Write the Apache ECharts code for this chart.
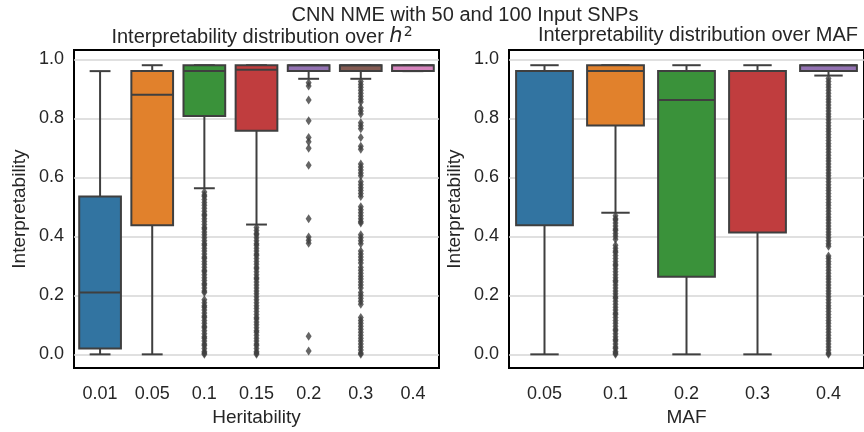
<!DOCTYPE html>
<html><head><meta charset="utf-8">
<script src="https://cdn.jsdelivr.net/npm/echarts@6/dist/echarts.min.js"></script>
<style>html,body{margin:0;padding:0;background:#fff}#c{width:864px;height:432px}</style>
</head><body><div id="c"></div>
<script>
// ---------- DATA ----------
const herCategories = ['0.01','0.05','0.1','0.15','0.2','0.3','0.4'];
// each: [lowerWhisker, q1, median, q3, upperWhisker]
const herBoxes = [
  [0.00, 0.02, 0.21, 0.535, 0.96],
  [0.00, 0.438, 0.88, 0.96, 0.98],
  [0.563, 0.808, 0.96, 0.98, 0.98],
  [0.44, 0.758, 0.965, 0.98, 0.98],
  [0.934, 0.96, 0.98, 0.98, 0.98],
  [0.934, 0.96, 0.98, 0.98, 0.98],
  [0.96, 0.96, 0.98, 0.98, 0.98]
];
const herOut001 = [];
const herOut005 = [];
const herOut01 = [0.55,0.54,0.535,0.525,0.515,0.505,0.495,0.485,0.475,0.47,0.46,0.45,0.44,0.43,0.425,0.415,0.405,0.395,0.385,0.375,0.37,0.36,0.35,0.34,0.33,0.325,0.315,0.305,0.295,0.285,0.28,0.27,0.26,0.25,0.24,0.235,0.225,0.215,0.21,
  0.185,0.175,0.165,0.16,0.15,0.14,0.13,0.125,0.115,0.105,0.095,0.09,0.08,0.07,0.06,0.055,0.045,0.035,0.03,0.02,0.01,0.005,0.0];
const herOut015 = [0.43,0.42,0.41,0.405,0.395,0.385,0.375,0.37,0.36,0.35,0.34,0.335,0.325,0.315,0.305,0.295,0.29,0.28,0.27,0.26,0.255,0.245,0.235,0.225,0.215,0.205,0.195,0.185,0.175,0.165,0.155,0.145,0.135,0.125,0.12,0.11,0.10,0.09,0.08,0.075,0.065,0.055,0.045,0.035,0.03,0.02,0.01,0.005,0.0];
const herOut02 = [0.921,0.91,0.862,0.792,0.735,0.721,0.699,0.641,0.46,0.398,0.387,0.377,0.061,0.011];
const herOut03 = [0.925,0.915,0.905,0.895,0.885,0.875,0.865,0.855,0.835,0.825,0.815,0.785,0.775,0.765,0.735,0.705,0.695,
  0.645,0.635,0.625,0.615,0.605,0.585,0.575,0.565,0.555,0.545,0.535,0.50,0.49,0.48,0.47,0.46,0.45,0.445,
  0.405,0.395,0.385,0.375,0.35,0.34,0.33,0.32,0.31,0.295,0.285,0.275,0.265,0.255,0.245,0.235,0.225,0.21,0.20,0.19,0.18,0.17,
  0.125,0.115,0.105,0.095,0.085,0.075,0.065,0.055,0.045,0.035,0.025,0.015,0.005,0.0];
const herOut04 = [];

const mafCategories = ['0.05','0.1','0.2','0.3','0.4'];
const mafBoxes = [
  [0.00, 0.438, 0.96, 0.96, 0.98],
  [0.48, 0.776, 0.96, 0.98, 0.98],
  [0.00, 0.263, 0.862, 0.96, 0.98],
  [0.00, 0.413, 0.96, 0.96, 0.98],
  [0.945, 0.96, 0.98, 0.98, 0.98]
];
const mafOut005 = [];
const mafOut01 = [0.47,0.46,0.455,0.445,0.435,0.425,0.42,0.41,0.40,0.39,
  0.37,0.36,0.35,0.345,0.335,0.325,0.315,0.305,0.30,0.29,0.28,0.27,0.26,0.25,0.245,0.235,0.225,0.215,0.205,0.195,0.19,0.18,0.17,0.16,0.15,0.14,0.135,0.125,0.115,0.105,0.095,0.085,0.08,0.07,0.06,0.05,0.045,0.035,0.025,0.02,0.01,0.005,0.0];
const mafOut02 = [];
const mafOut03 = [];
const mafOut04 = [0.935,0.925,0.915,0.905,0.895,0.885,0.875,0.865,0.855,0.845,0.835,0.825,0.815,0.805,0.795,0.785,0.775,0.765,
  0.755,0.745,0.735,0.725,0.715,0.705,0.695,0.685,0.675,0.665,0.655,0.645,0.635,0.625,0.615,0.605,0.595,0.585,0.575,0.565,0.555,0.545,0.535,0.525,0.515,0.505,0.495,0.485,0.475,0.465,0.455,0.445,0.435,0.425,0.415,0.405,0.395,0.385,0.375,0.366,
  0.333,0.325,0.315,0.305,0.295,0.285,0.275,0.265,0.255,0.245,0.235,0.225,0.215,0.205,0.195,0.185,0.175,0.165,0.155,0.145,0.135,0.125,0.115,0.105,0.095,0.085,0.075,0.065,0.055,0.045,0.035,0.025,0.015,0.005,0.0];

const yTicks = [0, 0.2, 0.4, 0.6, 0.8, 1.0];

// ---------- STYLE ----------
const palette = ['#3274a1','#e1812c','#3a923a','#c03d3e','#9372b2','#845b53','#d684bd'];
const edge = '#3f3f3f';
const txt = '#262626';
const font = 'Liberation Sans';

const herOutliers = [herOut001, herOut005, herOut01, herOut015, herOut02, herOut03, herOut04];
const mafOutliers = [mafOut005, mafOut01, mafOut02, mafOut03, mafOut04];

function boxRender(params, api) {
  const i = api.value(0);
  const lo = api.coord([i, api.value(1)]);
  const q1 = api.coord([i, api.value(2)]);
  const md = api.coord([i, api.value(3)]);
  const q3 = api.coord([i, api.value(4)]);
  const hi = api.coord([i, api.value(5)]);
  const band = api.size([1, 0])[0];
  const bw = band * 0.8, cw = bw * 0.5;
  const x = lo[0];
  const ls = { stroke: edge, lineWidth: 2 };
  return { type: 'group', children: [
    { type: 'line', shape: { x1: x, y1: q1[1], x2: x, y2: lo[1] }, style: ls },
    { type: 'line', shape: { x1: x, y1: q3[1], x2: x, y2: hi[1] }, style: ls },
    { type: 'line', shape: { x1: x - cw / 2, y1: lo[1], x2: x + cw / 2, y2: lo[1] }, style: ls },
    { type: 'line', shape: { x1: x - cw / 2, y1: hi[1], x2: x + cw / 2, y2: hi[1] }, style: ls },
    { type: 'rect', shape: { x: x - bw / 2, y: q3[1], width: bw, height: q1[1] - q3[1] },
      style: { fill: palette[params.dataIndex], stroke: edge, lineWidth: 2 } },
    { type: 'line', shape: { x1: x - bw / 2, y1: md[1], x2: x + bw / 2, y2: md[1] }, style: ls }
  ]};
}

function xAxisDef(idx, cats, name) {
  return { type: 'category', gridIndex: idx, data: cats, boundaryGap: true,
    axisLine: { show: false }, axisTick: { show: false },
    axisLabel: { fontSize: 18, color: txt, fontFamily: font, margin: 17 },
    name: name, nameLocation: 'middle', nameGap: 36,
    nameTextStyle: { fontSize: 19, color: txt, fontFamily: font },
    splitLine: { show: false } };
}
function yAxisDef(idx) {
  return { type: 'value', gridIndex: idx, min: -0.0466, max: 1.0316,
    axisLine: { show: false },
    axisTick: { show: false, customValues: yTicks },
    axisLabel: { customValues: yTicks, fontSize: 18, color: txt, fontFamily: font, margin: 10,
      formatter: v => v.toFixed(1) },
    splitLine: { show: true, lineStyle: { color: '#d6d6d6', width: 1.5 } },
    name: 'Interpretability', nameLocation: 'middle', nameGap: 45,
    nameTextStyle: { fontSize: 19, color: txt, fontFamily: font } };
}

const chart = echarts.init(document.getElementById('c'), null, { renderer: 'canvas' });
chart.setOption({
  backgroundColor: '#ffffff',
  animation: false,
  title: [
    { text: 'CNN NME with 50 and 100 Input SNPs', left: 460, top: 0, textAlign: 'center',
      textStyle: { fontSize: 20, fontWeight: 'normal', color: txt, fontFamily: font } },
    { text: 'Interpretability distribution over {h|h}{s|2}', left: 257, top: 20, textAlign: 'center',
      textStyle: { fontSize: 20, fontWeight: 'normal', color: txt, fontFamily: font,
        rich: { h: { fontSize: 21, fontStyle: 'italic', color: txt, fontFamily: 'DejaVu Sans', padding: [0, 1, 0, 0] },
                s: { fontSize: 14, color: txt, fontFamily: 'DejaVu Sans', verticalAlign: 'top', padding: [0, 0, 10, 0] } } } },
    { text: 'Interpretability distribution over MAF', left: 693, top: 20, textAlign: 'center',
      textStyle: { fontSize: 20, fontWeight: 'normal', color: txt, fontFamily: font } }
  ],
  grid: [
    { left: 74, top: 50, width: 365, height: 324, show: true, borderColor: '#000', borderWidth: 2, backgroundColor: 'transparent' },
    { left: 509, top: 50, width: 366, height: 324, show: true, borderColor: '#000', borderWidth: 2, backgroundColor: 'transparent' }
  ],
  xAxis: [ xAxisDef(0, herCategories, 'Heritability'), xAxisDef(1, mafCategories, 'MAF') ],
  yAxis: [ yAxisDef(0), yAxisDef(1) ],
  series: [
    { type: 'custom', xAxisIndex: 0, yAxisIndex: 0, renderItem: boxRender,
      encode: { x: 0, y: [1, 2, 3, 4, 5] }, data: herBoxes.map((b, i) => [i].concat(b)), z: 2 },
    { type: 'scatter', xAxisIndex: 0, yAxisIndex: 0, symbol: 'diamond', symbolSize: [6, 9],
      itemStyle: { color: edge }, z: 3,
      data: herOutliers.flatMap((arr, i) => arr.map(v => [i, v])) },
    { type: 'custom', xAxisIndex: 1, yAxisIndex: 1, renderItem: boxRender,
      encode: { x: 0, y: [1, 2, 3, 4, 5] }, data: mafBoxes.map((b, i) => [i].concat(b)), z: 2 },
    { type: 'scatter', xAxisIndex: 1, yAxisIndex: 1, symbol: 'diamond', symbolSize: [6, 9],
      itemStyle: { color: edge }, z: 3,
      data: mafOutliers.flatMap((arr, i) => arr.map(v => [i, v])) }
  ]
});
</script></body></html>
